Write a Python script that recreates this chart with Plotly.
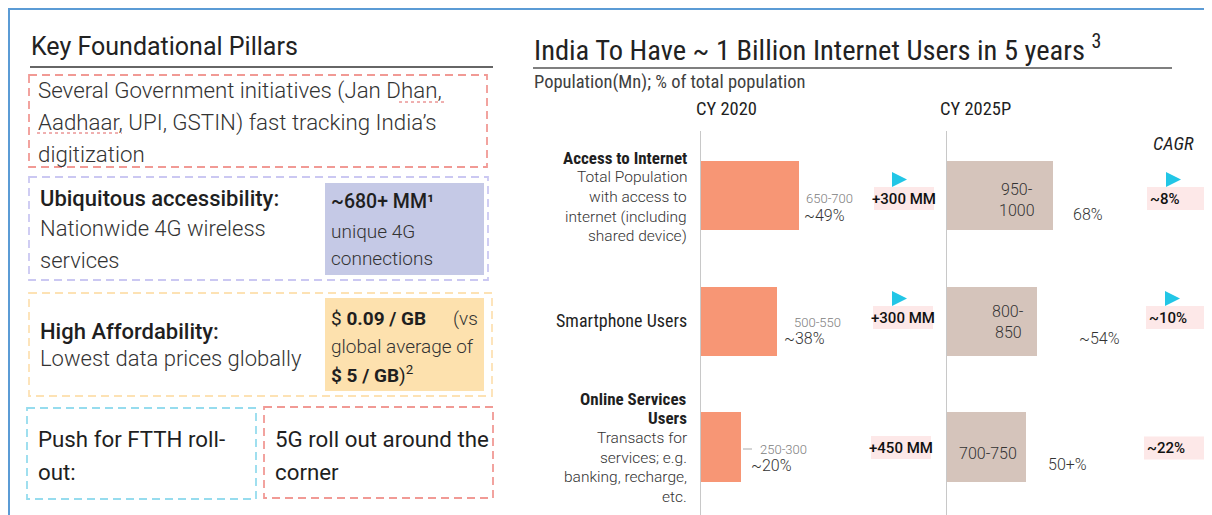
import plotly.graph_objects as go

# ---------------- data ----------------
categories = ["Access to Internet", "Smartphone Users", "Online Services Users"]
users_2020_mid = [675, 525, 275]          # midpoint of reported range (Mn)
users_2025_mid = [975, 825, 725]
range_2020 = ["650-700", "500-550", "250-300"]
share_2020 = ["~49%", "~38%", "~20%"]
range_2025 = [["950-", "1000"], ["800-", "850"], ["700-750"]]
share_2025 = ["68%", "~54%", "50+%"]
increment = ["+300 MM", "+300 MM", "+450 MM"]
cagr = ["~8%", "~10%", "~22%"]
years = ["CY 2020", "CY 2025P"]

# page is offset by the browser's 8px body margin
OFF = 8
W, H = 1212 - OFF, 515 - OFF
FONT = "Roboto"
NARROW = "Liberation Sans Narrow, Roboto Condensed, Arial Narrow, Roboto"
DARK = "#1f1f1f"
GREY = "#404040"


def px(x):
    return (x - OFF) / W


def py(y):
    return 1 - (y - OFF) / H


annotations = []
shapes = []


def text(x, y, s, size=14, color=GREY, xanchor="left", weight=400, italic=False, family=FONT):
    annotations.append(dict(
        x=px(x), y=py(y), xref="paper", yref="paper", text=s, showarrow=False,
        xanchor=xanchor, yanchor="middle", borderpad=0,
        font=dict(family=family, size=size, color=color, weight=weight,
                  style="italic" if italic else "normal"),
    ))


def rect(x0, y0, x1, y1, line=None, fill=None, dash="8px,5px", lw=1.8):
    shapes.append(dict(
        type="rect", xref="paper", yref="paper",
        x0=px(x0), x1=px(x1), y0=py(y0), y1=py(y1),
        line=dict(color=line if line else "rgba(0,0,0,0)", width=lw if line else 0, dash=dash),
        fillcolor=fill if fill else "rgba(0,0,0,0)", layer="below",
    ))


def hline(x0, x1, y, color, width=1.2, dash="solid"):
    shapes.append(dict(type="line", xref="paper", yref="paper",
                       x0=px(x0), x1=px(x1), y0=py(y), y1=py(y),
                       line=dict(color=color, width=width, dash=dash)))


def vline(x, y0, y1, color, width=1.2):
    shapes.append(dict(type="line", xref="paper", yref="paper",
                       x0=px(x), x1=px(x), y0=py(y0), y1=py(y1),
                       line=dict(color=color, width=width)))


def triangle(x0, y0, size=15, color="#22c6e6"):
    path = (f"M {px(x0)},{py(y0)} L {px(x0 + size)},{py(y0 + size / 2)} "
            f"L {px(x0)},{py(y0 + size)} Z")
    shapes.append(dict(type="path", xref="paper", yref="paper", path=path,
                       fillcolor=color, line=dict(width=0)))


LIGHT = 300

# ---------------- outer frame ----------------
vline(9, 8, 515, "#5b9bd5", 2)
hline(8, 1212, 9, "#5b9bd5", 2)

# ---------------- left panel ----------------
text(30, 47, "Key Foundational Pillars", size=25, color="#222222")
hline(30, 493, 67, "#333333", 1.3)

rect(29, 75, 487, 167, line="#f19a95")
for yy, s in zip([91, 122, 154], ["Several Government initiatives (Jan Dhan,",
                                   "Aadhaar, UPI, GSTIN) fast tracking India\u2019s",
                                   "digitization"]):
    text(37, yy, s, size=22.3, color="#333333", weight=LIGHT)
# spell-check squiggles
hline(399, 445, 102, "#e06060", 1, "dot")
hline(37, 122, 133, "#e06060", 1, "dot")

rect(29, 177, 488, 280, line="#cbc8f2")
rect(325, 183, 484, 275, fill="#c5c9e6")
text(39, 198, "Ubiquitous accessibility:", size=22, color=DARK, weight=500)
text(39, 228, "Nationwide 4G wireless", size=22, color="#333333", weight=LIGHT)
text(39, 260, "services", size=22, color="#333333", weight=LIGHT)
text(330, 202, "~680+ MM\u00b9", size=19.5, color=DARK, weight=500)
text(330, 231, "unique 4G", size=19, weight=LIGHT, color="#333333")
text(330, 258, "connections", size=19, weight=LIGHT, color="#333333")

rect(29, 293, 492, 396, line="#fde2b4")
rect(325, 298, 484, 391, fill="#fde1ae")
text(39, 331, "High Affordability:", size=22, color=DARK, weight=500)
text(39, 358, "Lowest data prices globally", size=22, color="#333333", weight=LIGHT)
text(330, 318, "$ <b>0.09 / GB</b>", size=19, color=DARK)
text(479, 318, "(vs", size=19, xanchor="right", weight=LIGHT, color="#333333")
text(330, 346, "global average of", size=19, weight=LIGHT, color="#333333")
text(330, 374, "<b>$ 5 / GB</b>)<sup>2</sup>", size=19, color=DARK)

rect(27, 408, 256, 499, line="#96dcee")
text(37, 439, "Push for FTTH roll-", size=22.3, color=DARK)
text(37, 472, "out:", size=22.3, color=DARK)

rect(264, 407, 493, 498, line="#f19a95")
text(274, 439, "5G roll out around the", size=22.3, color=DARK)
text(274, 472, "corner", size=22.3, color=DARK)

# ---------------- right panel text ----------------
text(533, 48, "India To Have ~ 1 Billion Internet Users in 5 years <sup>3</sup>",
     size=28.5, color="#222222", family=NARROW)
hline(533, 1172, 68, "#555555", 1.3)
text(533, 82, "Population(Mn); % of total population", size=18.5, family=NARROW)
text(726, 109, years[0], size=18.5, color=DARK, xanchor="center", family=NARROW)
text(975, 109, years[1], size=18.5, color=DARK, xanchor="center", family=NARROW)
text(1173, 144, "CAGR", size=18.5, color=DARK, xanchor="center", italic=True, family=NARROW)

# row labels
text(688, 158, "Access to Internet", size=17, color=DARK, xanchor="right", weight=700, family=NARROW)
for yy, s in zip([177, 197, 217, 236], ["Total Population", "with access to",
                                         "internet (including", "shared device)"]):
    text(688, yy, s, size=15.5, xanchor="right", weight=LIGHT, color="#333333")
text(688, 320, "Smartphone Users", size=18, color=DARK, xanchor="right", family=NARROW)
text(688, 399, "Online Services", size=17, color=DARK, xanchor="right", weight=700, family=NARROW)
text(688, 418, "Users", size=17, color=DARK, xanchor="right", weight=700, family=NARROW)
for yy, s in zip([438, 458, 477, 497], ["Transacts for", "services; e.g.",
                                         "banking, recharge,", "etc."]):
    text(688, yy, s, size=15.5, xanchor="right", weight=LIGHT, color="#333333")

# 2020 labels
lab2020 = [(805, 198, 803, 215), (793, 322, 783, 338), (759, 449, 750, 465)]
for (rx, ry, sx, sy), r, s in zip(lab2020, range_2020, share_2020):
    text(rx, ry, r, size=13, color="#808080", weight=LIGHT)
    text(sx, sy, s, size=16, weight=LIGHT, color="#333333")
hline(743, 752, 449, "#aaaaaa", 1)

# increments
inc_pos = [(874, 198.5), (873, 317.5), (871, 447.5)]
for (bx, by), s in zip(inc_pos, increment):
    rect(bx, by - 11.5, bx + 60, by + 11.5, fill="#fde8e8")
    text(bx + 30, by, s, size=15, color="#111111", xanchor="center", weight=500)
triangle(892, 172)
triangle(892, 291)

# 2025 labels
in_pos = [(1017, [189, 210]), (1008, [311, 332]), (988, [453])]
for (cx, ys), lines in zip(in_pos, range_2025):
    for yy, s in zip(ys, lines):
        text(cx, yy, s, size=16, xanchor="center", weight=LIGHT, color="#333333")
sh_pos = [(1072, 214), (1078, 338), (1047, 464)]
for (sx, sy), s in zip(sh_pos, share_2025):
    text(sx, sy, s, size=16, weight=LIGHT, color="#333333")

# CAGR
cagr_pos = [(1147, 198.5), (1146, 317.5), (1144, 448)]
for (bx, by), s in zip(cagr_pos, cagr):
    rect(bx, by - 11.5, bx + 61, by + 11.5, fill="#fde8e8")
    text(bx + 2, by, s, size=15, color="#111111", weight=500)
triangle(1166, 172)
triangle(1165, 291)

# ---------------- bars ----------------
fig = go.Figure()
fig.add_trace(go.Bar(x=users_2020_mid, y=categories, orientation="h", width=0.55,
                     marker=dict(color="#f79675", line=dict(width=0)),
                     xaxis="x", yaxis="y", hoverinfo="skip"))
fig.add_trace(go.Bar(x=users_2025_mid, y=categories, orientation="h", width=0.55,
                     marker=dict(color="#d5c4bb", line=dict(width=0)),
                     xaxis="x2", yaxis="y2", hoverinfo="skip"))

x1_start, x1_end = 700.5, 935
x2_start, x2_end = 946.5, 1200
scale1, scale2 = 0.145, 0.109   # px per Mn in each panel
yrange = [2.54, -0.513]
ydom = [0, py(131)]

axis_common = dict(showgrid=False, zeroline=False, showticklabels=False, ticks="")
fig.update_layout(
    width=W, height=H, margin=dict(l=0, r=0, t=0, b=0),
    paper_bgcolor="white", plot_bgcolor="rgba(0,0,0,0)",
    showlegend=False, bargap=0,
    xaxis=dict(domain=[px(x1_start), px(x1_end)], range=[0, (x1_end - x1_start) / scale1],
               anchor="y", showline=False, **axis_common),
    yaxis=dict(domain=ydom, range=yrange, type="category", categoryarray=categories,
               anchor="x", showline=True, linecolor="#c8c8c8", linewidth=1, **axis_common),
    xaxis2=dict(domain=[px(x2_start), px(x2_end)], range=[0, (x2_end - x2_start) / scale2],
                anchor="y2", showline=False, **axis_common),
    yaxis2=dict(domain=ydom, range=yrange, type="category", categoryarray=categories,
                anchor="x2", showline=True, linecolor="#c8c8c8", linewidth=1, **axis_common),
    annotations=annotations, shapes=shapes,
)

fig.write_html("out.html")
